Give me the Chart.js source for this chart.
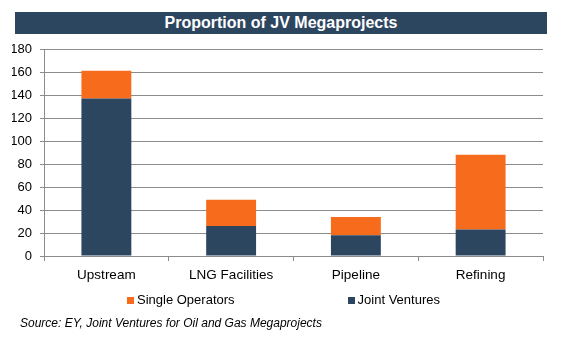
<!DOCTYPE html>
<html>
<head>
<meta charset="utf-8">
<script src="https://cdn.jsdelivr.net/npm/chart.js@4/dist/chart.umd.min.js"></script>
<style>
  body { margin: 0; background: #fff; font-family: "Liberation Sans", Arial, sans-serif; }
  #wrap { position: relative; width: 565px; height: 341px; }
  #banner {
    position: absolute; left: 15px; top: 12px; width: 532px; height: 22px;
    background: #2d4660; color: #fff; font-weight: bold; font-size: 16px;
    line-height: 22px; text-align: center;
  }
  #legend {
    position: absolute; left: 127px; top: 292px; display: flex; gap: 113px;
    font-size: 13px; color: #000; line-height: 16px;
  }
  #legend span.item { display: flex; align-items: center; }
  #legend span.box { width: 7px; height: 7px; margin-right: 3px; display: inline-block; }
  #source {
    position: absolute; left: 20px; top: 316px; font-size: 12px; font-style: italic;
    line-height: 14px; color: #000;
  }
</style>
</head>
<body>
<div id="wrap">
  <canvas id="jvChart" width="565" height="341"></canvas>
  <div id="banner">Proportion of JV Megaprojects</div>
  <div id="legend"></div>
  <div id="source">Source: EY, Joint Ventures for Oil and Gas Megaprojects</div>
</div>
<script>
// project counts by sector
const sectors = ['Upstream', 'LNG Facilities', 'Pipeline', 'Refining'];
const joint_ventures = [137, 26, 18, 23];
const single_operators = [24, 23, 16, 65];
const y_ticks = [0, 20, 40, 60, 80, 100, 120, 140, 160, 180];

const color_navy = '#2d4660';
const color_orange = '#f76b1c';
const color_grid = '#8c8c8c';

const datasets = [
    { label: 'Joint Ventures', data: joint_ventures, backgroundColor: color_navy },
    { label: 'Single Operators', data: single_operators, backgroundColor: color_orange }
];

const config = {
    type: 'bar',
    data: { labels: sectors, datasets: datasets },
    options: {
        responsive: false,
        animation: false,
        layout: { padding: { left: 12, right: 22, top: 49, bottom: 55 } },
        datasets: { bar: { categoryPercentage: 1, barPercentage: 0.4 } },
        plugins: { legend: { display: false }, tooltip: { enabled: false } },
        scales: {
            x: {
                stacked: true,
                afterFit: (scale) => { scale.height = 30; },
                grid: { drawOnChartArea: false, color: color_grid, tickLength: 5 },
                border: { color: color_grid },
                ticks: { color: '#000', padding: 6, font: { family: 'Liberation Sans', size: 13.5 } }
            },
            y: {
                stacked: true,
                min: y_ticks[0],
                max: y_ticks[y_ticks.length - 1],
                afterFit: (scale) => { scale.width = 32; },
                afterBuildTicks: (scale) => { scale.ticks = y_ticks.map(v => ({ value: v })); },
                grid: { color: color_grid, tickLength: 4 },
                border: { color: color_grid },
                ticks: { color: '#000', padding: 8, font: { family: 'Liberation Sans', size: 13 } }
            }
        }
    }
};

const chart = new Chart(document.getElementById('jvChart'), config);

// legend lists single operators first, as in the stack from top down
const legendEl = document.getElementById('legend');
chart.data.datasets.slice().reverse().forEach(ds => {
    const item = document.createElement('span');
    item.className = 'item';
    const box = document.createElement('span');
    box.className = 'box';
    box.style.background = ds.backgroundColor;
    item.appendChild(box);
    item.appendChild(document.createTextNode(ds.label));
    legendEl.appendChild(item);
});
</script>
</body>
</html>
